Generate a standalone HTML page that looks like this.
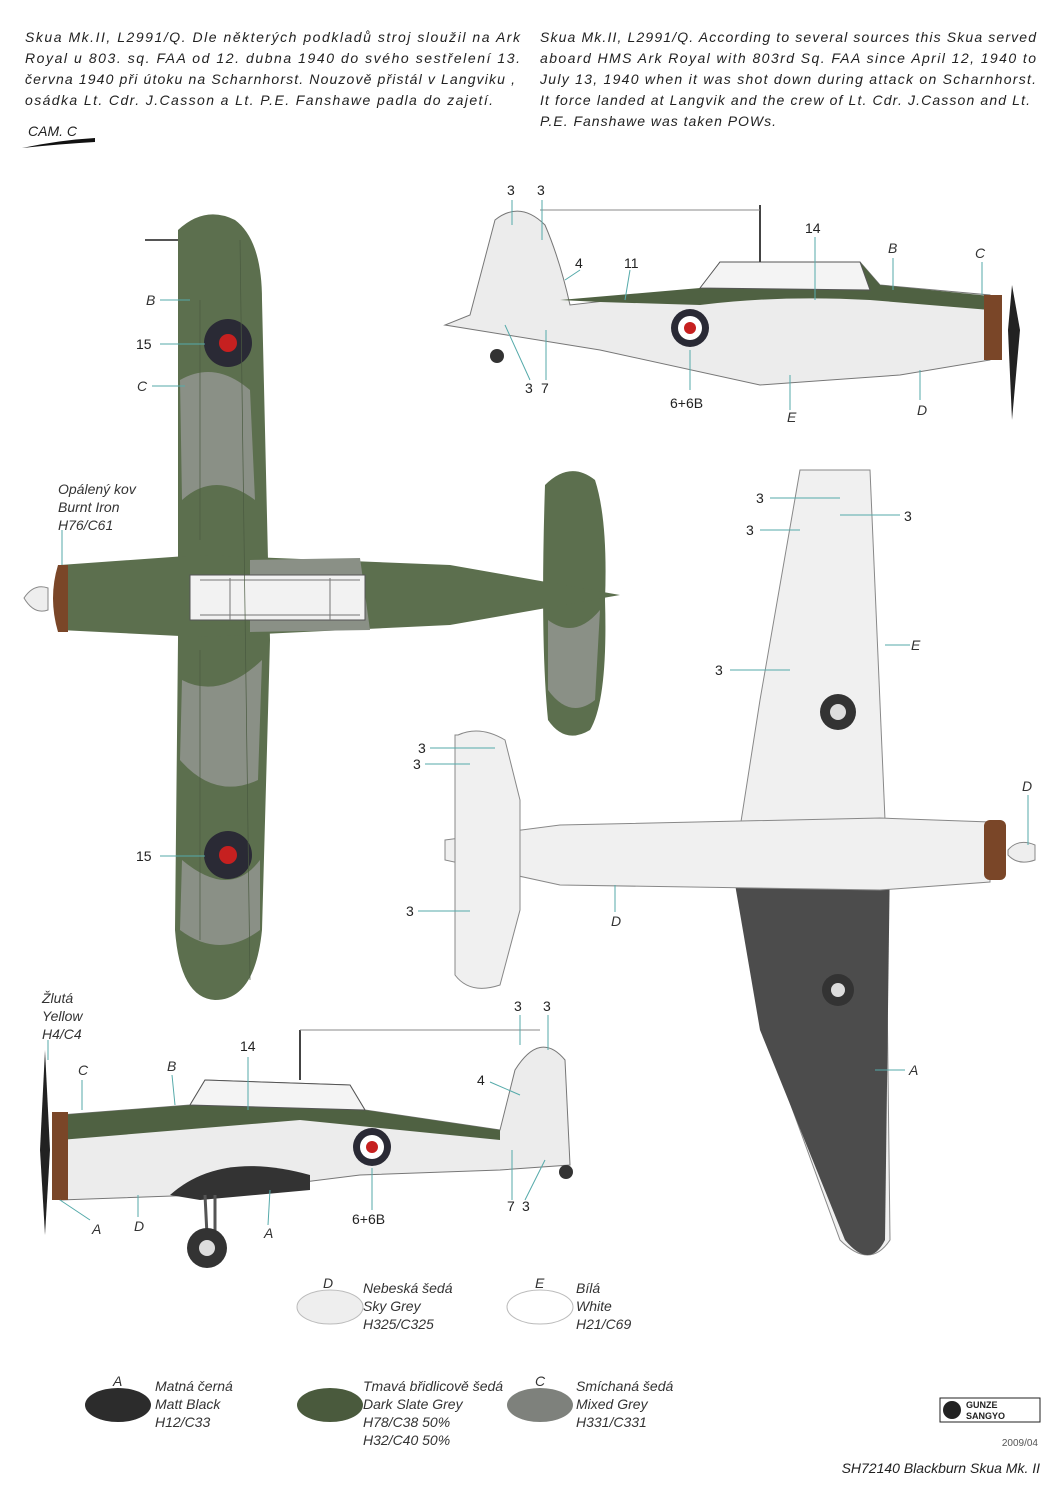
<!DOCTYPE html>
<html><head><meta charset="utf-8">
<style>
body{margin:0;background:#fff;}
svg{display:block;font-family:"Liberation Sans",sans-serif;}
.t{font-style:italic;font-size:14px;fill:#222;}
.l{font-style:italic;font-size:14px;fill:#333;}
.n{font-size:14px;fill:#222;}
</style></head><body>
<svg width="1062" height="1500" viewBox="0 0 1062 1500" xmlns="http://www.w3.org/2000/svg">
<rect width="1062" height="1500" fill="#fff"/>
<g class="t">
<text x="25" y="42" textLength="495" lengthAdjust="spacing">Skua Mk.II, L2991/Q. Dle některých podkladů stroj sloužil na Ark</text>
<text x="25" y="63" textLength="495" lengthAdjust="spacing">Royal u 803. sq. FAA od 12. dubna 1940 do svého sestřelení 13.</text>
<text x="25" y="84" textLength="490" lengthAdjust="spacing">června 1940 při útoku na Scharnhorst. Nouzově přistál v Langviku ,</text>
<text x="25" y="105" textLength="468" lengthAdjust="spacing">osádka Lt. Cdr. J.Casson a Lt. P.E. Fanshawe padla do zajetí.</text>
<text x="540" y="42" textLength="496" lengthAdjust="spacing">Skua Mk.II, L2991/Q. According to several sources this Skua served</text>
<text x="540" y="63" textLength="496" lengthAdjust="spacing">aboard HMS Ark Royal with 803rd Sq. FAA since April 12, 1940 to</text>
<text x="540" y="84" textLength="496" lengthAdjust="spacing">July 13, 1940 when it was shot down during attack on Scharnhorst.</text>
<text x="540" y="105" textLength="490" lengthAdjust="spacing">It force landed at Langvik and the crew of Lt. Cdr. J.Casson and Lt.</text>
<text x="540" y="126" textLength="236" lengthAdjust="spacing">P.E. Fanshawe was taken POWs.</text>
<text x="28" y="136">CAM. C</text>
</g>
<path d="M22 148 Q60 140 95 138 L95 142 Q60 144 22 148Z" fill="#111"/>

<!-- TOP VIEW -->
<g>
<path d="M178 230 Q205 205 235 220 Q262 240 262 300 L268 560 L270 640 L262 930 Q255 1000 215 1000 Q180 998 175 930 L178 640 L178 300Z" fill="#5c6f4e"/>
<path d="M180 380 Q215 360 250 390 L255 500 Q215 470 182 500Z M182 680 Q220 700 262 660 L258 780 Q215 800 180 760Z M182 860 Q230 900 260 860 L260 930 Q220 960 180 930Z" fill="#8a9086"/>
<path d="M545 485 Q570 460 595 480 Q608 520 605 600 Q608 700 590 730 Q565 745 548 720 Q540 640 545 485Z" fill="#5c6f4e"/>
<path d="M548 620 Q575 640 600 610 L595 700 Q570 720 548 690Z" fill="#8a9086"/>
<path d="M60 565 L200 555 L450 565 L620 595 L450 625 L200 637 L60 630Z" fill="#5c6f4e"/>
<path d="M250 560 L360 558 L370 630 L250 632Z" fill="#8a9086"/>
<rect x="190" y="575" width="175" height="45" fill="#f2f2f2" stroke="#555"/>
<path d="M200 580 L360 580 M200 615 L360 615 M230 578 L230 620 M330 578 L330 620" stroke="#777" fill="none"/>
<path d="M58 565 Q48 598 58 632 L68 632 L68 565Z" fill="#7a4628"/>
<path d="M24 598 Q34 583 48 588 L48 610 Q34 615 24 598Z" fill="#eee" stroke="#888"/>
<circle cx="228" cy="343" r="24" fill="#2a2a35"/><circle cx="228" cy="343" r="9" fill="#c62020"/>
<circle cx="228" cy="855" r="24" fill="#2a2a35"/><circle cx="228" cy="855" r="9" fill="#c62020"/>
<line x1="145" y1="240" x2="178" y2="240" stroke="#555" stroke-width="2"/>
<path d="M240 240 L250 980 M200 300 L200 540 M200 650 L200 940" stroke="#4a5a40" fill="none" stroke-width="0.7"/>
</g>
<g fill="none" stroke="#5aa" stroke-width="1">
<line x1="160" y1="300" x2="190" y2="300"/><line x1="160" y1="344" x2="205" y2="344"/><line x1="152" y1="386" x2="185" y2="386"/><line x1="160" y1="856" x2="205" y2="856"/><line x1="62" y1="530" x2="62" y2="565"/>
</g>
<text class="l" x="146" y="305">B</text><text class="n" x="136" y="349">15</text><text class="l" x="137" y="391">C</text><text class="n" x="136" y="861">15</text>
<text class="l" x="58" y="494">Opálený kov</text><text class="l" x="58" y="512">Burnt Iron</text><text class="l" x="58" y="530">H76/C61</text>

<!-- SIDE VIEW TOP RIGHT -->
<path d="M495 220 Q520 200 545 225 Q560 260 570 305 L700 290 L720 262 L860 262 L880 285 L990 295 L990 360 L900 375 L760 385 L600 350 L445 325 L470 315 Z" fill="#ececec" stroke="#777"/>
<path d="M560 300 L700 288 L720 262 L860 262 L880 285 L990 296 L990 310 L870 300 Q780 295 700 305 L600 302Z" fill="#4f6142"/>
<path d="M700 288 L720 262 L860 262 L870 290Z" fill="#f4f4f4" stroke="#555"/>
<rect x="984" y="295" width="18" height="65" fill="#7a4628"/>
<path d="M1012 285 L1020 330 L1012 420 L1008 330Z" fill="#222"/>
<line x1="760" y1="205" x2="760" y2="262" stroke="#444" stroke-width="2"/>
<line x1="540" y1="210" x2="760" y2="210" stroke="#888"/>
<circle cx="690" cy="328" r="19" fill="#2a2a35"/><circle cx="690" cy="328" r="12" fill="#fff"/><circle cx="690" cy="328" r="6" fill="#c62020"/>
<circle cx="497" cy="356" r="7" fill="#333"/>
<g stroke="#5aa" fill="none"><path d="M512 200 L512 225 M542 200 L542 240 M580 270 L565 280 M630 270 L625 300 M815 237 L815 300 M893 258 L893 290 M982 262 L982 295 M530 380 L505 325 M546 380 L546 330 M690 390 L690 350 M790 410 L790 375 M920 400 L920 370"/></g>
<text class="n" x="507" y="195">3</text><text class="n" x="537" y="195">3</text><text class="n" x="575" y="268">4</text><text class="n" x="624" y="268">11</text><text class="n" x="805" y="233">14</text><text class="l" x="888" y="253">B</text><text class="l" x="975" y="258">C</text>
<text class="n" x="525" y="393">3</text><text class="n" x="541" y="393">7</text><text class="n" x="670" y="408">6+6B</text><text class="l" x="787" y="422">E</text><text class="l" x="917" y="415">D</text>

<!-- BOTTOM VIEW RIGHT -->
<path d="M800 470 L870 470 L885 820 L890 1240 Q870 1270 840 1240 L760 1020 L735 860 L760 700Z" fill="#f0f0f0" stroke="#888"/>
<path d="M730 855 L890 855 L885 1240 Q870 1270 845 1240 L760 1030Z" fill="#4c4c4c"/>
<path d="M445 840 L560 825 L880 818 L990 822 L990 882 L880 890 L560 885 L445 860Z" fill="#f0f0f0" stroke="#888"/>
<path d="M458 735 Q480 725 505 740 L520 800 L520 910 L500 985 Q470 995 455 975 L455 735Z" fill="#f0f0f0" stroke="#888"/>
<rect x="984" y="820" width="22" height="60" rx="6" fill="#7a4628"/>
<path d="M1008 850 Q1018 838 1035 845 L1035 860 Q1018 866 1008 855Z" fill="#eee" stroke="#888"/>
<circle cx="838" cy="712" r="18" fill="#333"/><circle cx="838" cy="712" r="8" fill="#ddd"/>
<circle cx="838" cy="990" r="16" fill="#333"/><circle cx="838" cy="990" r="7" fill="#ddd"/>
<g stroke="#5aa" fill="none"><path d="M770 498 L840 498 M840 515 L900 515 M760 530 L800 530 M885 645 L910 645 M730 670 L790 670 M1028 795 L1028 845 M875 1070 L905 1070 M430 748 L495 748 M425 764 L470 764 M418 911 L470 911 M615 912 L615 885"/></g>
<text class="n" x="756" y="503">3</text><text class="n" x="904" y="521">3</text><text class="n" x="746" y="535">3</text><text class="l" x="911" y="650">E</text><text class="n" x="715" y="675">3</text><text class="l" x="1022" y="791">D</text><text class="l" x="909" y="1075">A</text>
<text class="n" x="418" y="753">3</text><text class="n" x="413" y="769">3</text><text class="n" x="406" y="916">3</text><text class="l" x="611" y="926">D</text>

<!-- SIDE VIEW BOTTOM LEFT -->
<path d="M60 1115 L190 1105 L205 1080 L350 1085 L365 1110 L500 1130 L515 1070 Q540 1030 565 1060 L570 1165 L500 1170 L360 1175 L200 1195 L60 1200Z" fill="#ececec" stroke="#777"/>
<path d="M60 1115 L190 1105 L205 1080 L350 1085 L365 1110 L500 1130 L500 1140 L300 1120 L60 1140Z" fill="#4f6142"/>
<path d="M190 1105 L205 1080 L350 1085 L365 1110Z" fill="#f4f4f4" stroke="#555"/>
<path d="M170 1195 Q220 1150 310 1175 L310 1190 L200 1200Z" fill="#333"/>
<rect x="52" y="1112" width="16" height="88" fill="#7a4628"/>
<path d="M45 1050 L50 1150 L45 1235 L40 1150Z" fill="#222"/>
<line x1="300" y1="1030" x2="300" y2="1080" stroke="#444" stroke-width="2"/>
<line x1="300" y1="1030" x2="540" y2="1030" stroke="#888"/>
<circle cx="372" cy="1147" r="19" fill="#2a2a35"/><circle cx="372" cy="1147" r="12" fill="#fff"/><circle cx="372" cy="1147" r="6" fill="#c62020"/>
<path d="M205 1195 L207 1235 M215 1195 L215 1235" stroke="#555" stroke-width="3"/>
<circle cx="207" cy="1248" r="20" fill="#333"/><circle cx="207" cy="1248" r="8" fill="#ddd"/>
<circle cx="566" cy="1172" r="7" fill="#333"/>
<g stroke="#5aa" fill="none"><path d="M48 1040 L48 1060 M82 1080 L82 1110 M172 1075 L175 1105 M248 1057 L248 1110 M520 1015 L520 1045 M548 1015 L548 1050 M490 1082 L520 1095 M512 1200 L512 1150 M525 1200 L545 1160 M372 1210 L372 1168 M90 1220 L60 1200 M138 1217 L138 1195 M268 1225 L270 1190"/></g>
<text class="l" x="42" y="1003">Žlutá</text><text class="l" x="42" y="1021">Yellow</text><text class="l" x="42" y="1039">H4/C4</text>
<text class="l" x="78" y="1075">C</text><text class="l" x="167" y="1071">B</text><text class="n" x="240" y="1051">14</text><text class="n" x="514" y="1011">3</text><text class="n" x="543" y="1011">3</text><text class="n" x="477" y="1085">4</text>
<text class="n" x="507" y="1211">7</text><text class="n" x="522" y="1211">3</text><text class="n" x="352" y="1224">6+6B</text><text class="l" x="92" y="1234">A</text><text class="l" x="134" y="1231">D</text><text class="l" x="264" y="1238">A</text>

<!-- SWATCHES -->
<ellipse cx="330" cy="1307" rx="33" ry="17" fill="#eeeeee" stroke="#bbb"/>
<ellipse cx="540" cy="1307" rx="33" ry="17" fill="#fff" stroke="#bbb"/>
<ellipse cx="118" cy="1405" rx="33" ry="17" fill="#2c2c2c"/>
<ellipse cx="330" cy="1405" rx="33" ry="17" fill="#4a5a3d"/>
<ellipse cx="540" cy="1405" rx="33" ry="17" fill="#7e817c"/>
<g class="l">
<text x="323" y="1288">D</text><text x="363" y="1293">Nebeská šedá</text><text x="363" y="1311">Sky Grey</text><text x="363" y="1329">H325/C325</text>
<text x="535" y="1288">E</text><text x="576" y="1293">Bílá</text><text x="576" y="1311">White</text><text x="576" y="1329">H21/C69</text>
<text x="113" y="1386">A</text><text x="155" y="1391">Matná černá</text><text x="155" y="1409">Matt Black</text><text x="155" y="1427">H12/C33</text>
<text x="363" y="1391">Tmavá břidlicově šedá</text><text x="363" y="1409">Dark Slate Grey</text><text x="363" y="1427">H78/C38 50%</text><text x="363" y="1445">H32/C40 50%</text>
<text x="535" y="1386">C</text><text x="576" y="1391">Smíchaná šedá</text><text x="576" y="1409">Mixed Grey</text><text x="576" y="1427">H331/C331</text>
</g>
<rect x="940" y="1398" width="100" height="24" fill="#fff" stroke="#222"/>
<circle cx="952" cy="1410" r="9" fill="#222"/>
<text x="966" y="1408" font-size="9" font-weight="bold" fill="#222">GUNZE</text><text x="966" y="1419" font-size="9" font-weight="bold" fill="#222">SANGYO</text>
<text x="1038" y="1446" font-size="10" fill="#555" text-anchor="end">2009/04</text>
<text class="t" x="1040" y="1473" text-anchor="end" font-size="16">SH72140 Blackburn Skua Mk. II</text>
</svg>
</body></html>
